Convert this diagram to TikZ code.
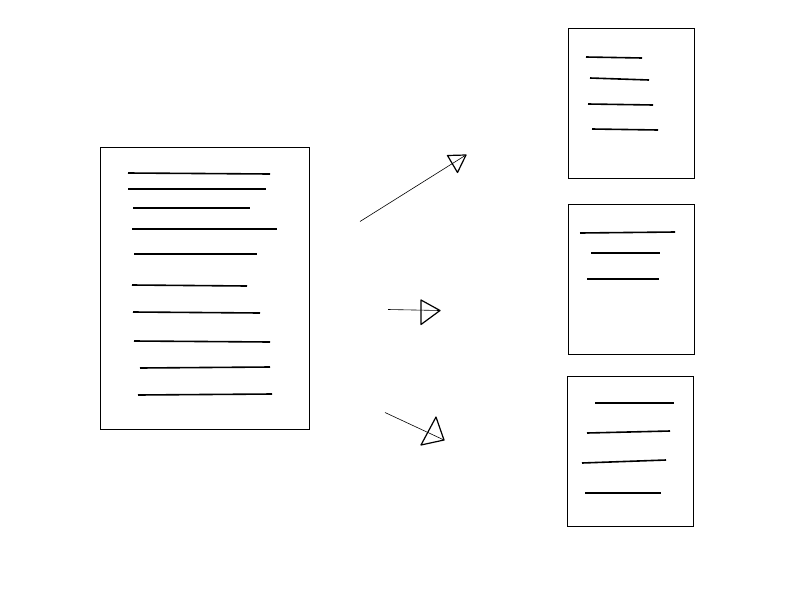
\documentclass[tikz,border=0pt]{standalone}
\begin{document}
\begin{tikzpicture}[x=1pt,y=-1pt,
  page/.style={draw=black,line width=0.9pt},
  txt/.style={draw=black,line width=1.6pt},
  shaft/.style={draw=black,line width=0.6pt},
  head/.style={draw=black,line width=1.2pt,line join=round}]
\useasboundingbox (0,0) rectangle (800,600);
% source document
\draw[page] (100,147) rectangle (309,429);
\draw[txt] (128,173)--(270,174);
\draw[txt] (128,189)--(266,189);
\draw[txt] (133,208)--(250,208);
\draw[txt] (132,229)--(277,229);
\draw[txt] (134,254)--(257,254);
\draw[txt] (132,285)--(247,286);
\draw[txt] (133,312)--(260,313);
\draw[txt] (134,341)--(270,342);
\draw[txt] (140,368)--(270,367);
\draw[txt] (138,395)--(272,394);
% right documents
\draw[page] (568,28) rectangle (694,178);
\draw[txt] (586,57)--(642,58);
\draw[txt] (590,78)--(649,80);
\draw[txt] (588,104)--(653,105);
\draw[txt] (592,129)--(658,130);
\draw[page] (568,204) rectangle (694,354);
\draw[txt] (580,233)--(675,232);
\draw[txt] (591,253)--(660,253);
\draw[txt] (587,279)--(659,279);
\draw[page] (567,376) rectangle (693,526);
\draw[txt] (595,403)--(674,403);
\draw[txt] (587,433)--(670,431);
\draw[txt] (582,463)--(666,460);
\draw[txt] (585,493)--(661,493);
% arrows
\coordinate (a1s) at (360,221.5);
\coordinate (a1t) at (466,155);
\draw[shaft] (a1s)--(a1t);
\draw[head] (447.5,155.5)--(a1t)--(457.5,172.5)--cycle;
\coordinate (a2s) at (388,309.5);
\coordinate (a2t) at (440,310.5);
\draw[shaft] (a2s)--(a2t);
\draw[head] (421,300)--(a2t)--(421,324.5)--cycle;
\coordinate (a3s) at (385,412.5);
\coordinate (a3t) at (444,440);
\draw[shaft] (a3s)--(a3t);
\draw[head] (436,417)--(a3t)--(421,445)--cycle;
\end{tikzpicture}
\end{document}
